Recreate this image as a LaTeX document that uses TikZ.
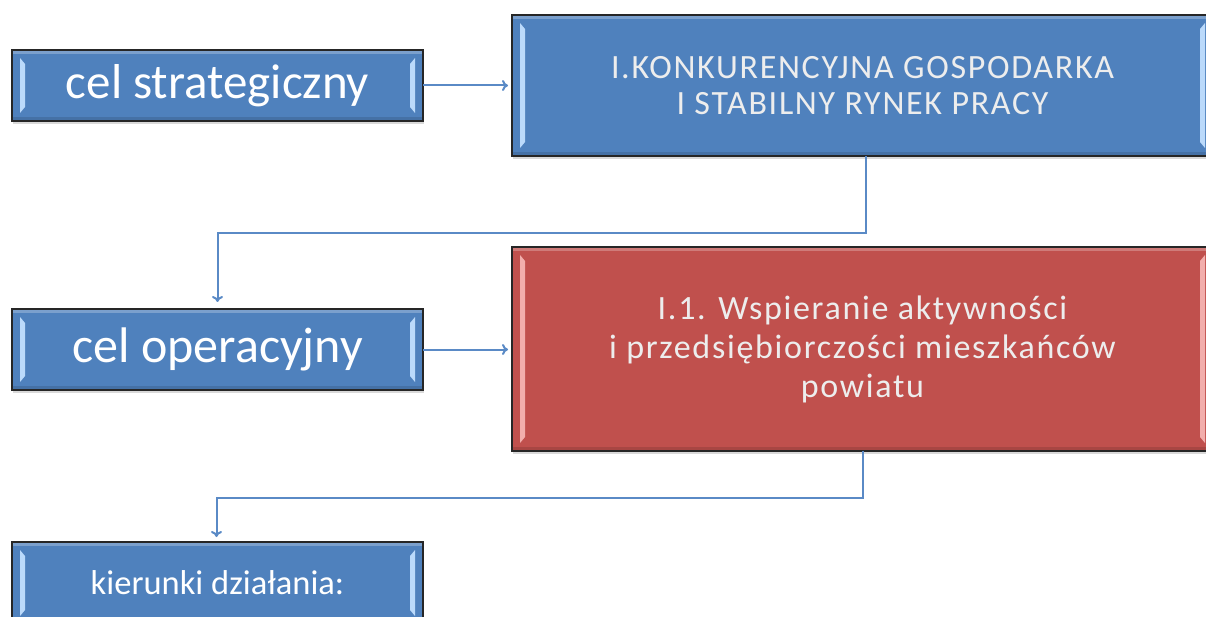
\documentclass[tikz,border=0pt]{standalone}
\usepackage{fontspec}
\setmainfont{Carlito}
\newfontfamily\spacedfont[LetterSpace=5]{Carlito}
\usetikzlibrary{shadows,calc,arrows.meta}

\definecolor{boxblue}{HTML}{4F81BD}
\definecolor{boxred}{HTML}{C0504D}
\definecolor{linkblue}{HTML}{5A8AC6}
\definecolor{bevelblue}{HTML}{BBDAFB}
\definecolor{bevelred}{HTML}{F2AEAC}

\tikzset{
	box/.style={
		rectangle,
		fill=boxblue,
		draw=black!85,
		line width=1.4pt,
		inner sep=0pt,
		outer sep=0pt,
		align=center,
		text=white,
		drop shadow={shadow xshift=1pt, shadow yshift=-3pt, opacity=0.3},
		path picture={
			\fill[#1] ([shift={(8pt,-8pt)}]path picture bounding box.north west) -- ([shift={(13pt,-14pt)}]path picture bounding box.north west)
				-- ([shift={(13pt,14pt)}]path picture bounding box.south west) -- ([shift={(8pt,8pt)}]path picture bounding box.south west) -- cycle;
			\fill[#1] ([shift={(-8pt,-8pt)}]path picture bounding box.north east) -- ([shift={(-13pt,-14pt)}]path picture bounding box.north east)
				-- ([shift={(-13pt,14pt)}]path picture bounding box.south east) -- ([shift={(-8pt,8pt)}]path picture bounding box.south east) -- cycle;
			\fill[white, opacity=0.25] (path picture bounding box.north west) rectangle ([yshift=-4pt]path picture bounding box.north east);
			\fill[black, opacity=0.12] (path picture bounding box.south west) rectangle ([yshift=4pt]path picture bounding box.south east);
		}
	},
	box/.default=bevelblue,
	goalbox/.style={box=#1, text=white!93!black, font=\spacedfont\fontsize{34}{36}\selectfont},
	goalbox/.default=bevelblue,
	link/.style={draw=linkblue, line width=2pt, -{To[length=6pt, width=11pt, line width=2pt]}, shorten >=4pt}
}

\begin{document}
\begin{tikzpicture}[x=1pt, y=-1pt]
	\useasboundingbox (0,0) rectangle (1206,617);

	\node[box, minimum width=411pt, minimum height=71pt, font=\fontsize{49}{50}\selectfont] (strat) at (217.5,85.5) {cel strategiczny};
	\node[box, minimum width=411pt, minimum height=81pt, font=\fontsize{50}{50}\selectfont] (oper) at (217.5,349.5) {cel operacyjny};
	\node[box, minimum width=411pt, minimum height=82pt, font=\fontsize{34.5}{36}\selectfont] (kier) at (217.5,583) {kierunki działania:};

	\node[goalbox, minimum width=701pt, minimum height=141pt] (goal1) at (862.5,85.5) {I.KONKURENCYJNA GOSPODARKA\\I STABILNY RYNEK PRACY};
	\node[goalbox=bevelred, fill=boxred, minimum width=701pt, minimum height=204pt, font=\spacedfont\fontsize{34}{39}\selectfont] (goal11) at (862.5,349) {I.1. Wspieranie aktywności\\i przedsiębiorczości mieszkańców\\powiatu};

	% polaczenia
	\draw[link] (strat.east) -- (goal1.west);
	\draw[link] (oper.east) -- (oper.east -| goal11.west);
	\draw[link, shorten >=7pt] ([xshift=3pt]goal1.south) -- ++(0,77) -| (oper.north);
	\draw[link, shorten >=5pt] (goal11.south) -- ++(0,47) -| ([xshift=-1pt]kier.north);
\end{tikzpicture}
\end{document}
